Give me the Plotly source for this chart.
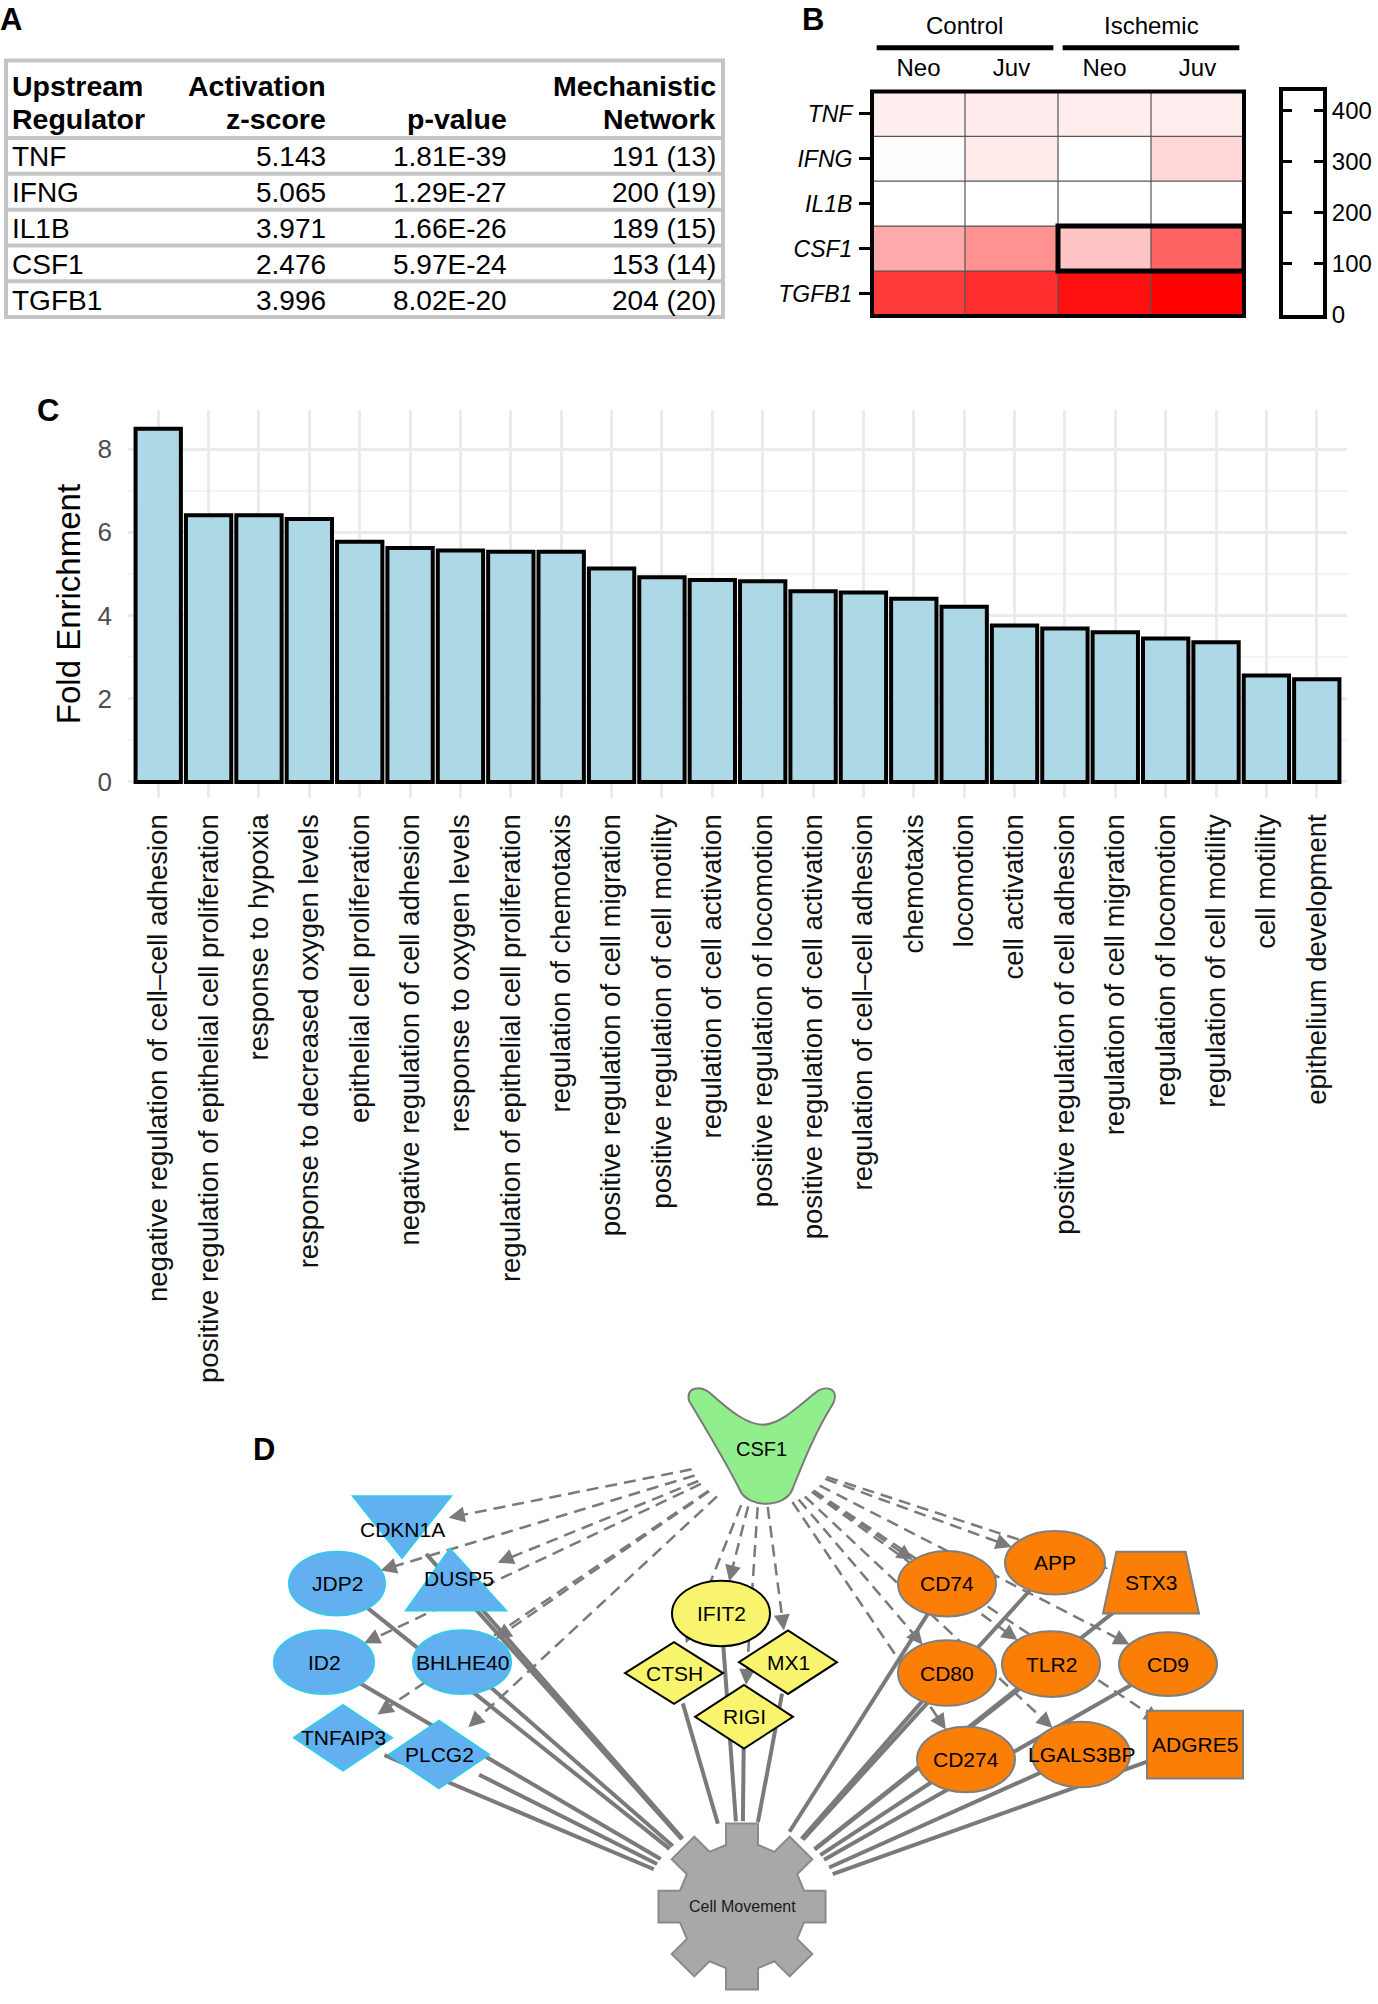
import numpy as np
import plotly.graph_objects as go

W, H = 1378, 2004
FONT = "Liberation Sans, Arial, Helvetica, sans-serif"

# ---------------- Panel A data ----------------
regulators = ["TNF", "IFNG", "IL1B", "CSF1", "TGFB1"]
activation_z = [5.143, 5.065, 3.971, 2.476, 3.996]
p_values = [1.81e-39, 1.29e-27, 1.66e-26, 5.97e-24, 8.02e-20]
network_size = [191, 200, 189, 153, 204]
network_genes = [13, 19, 15, 14, 20]
table_head_line1 = ["Upstream", "Activation", "", "Mechanistic"]
table_head_line2 = ["Regulator", "z-score", "p-value", "Network"]

# ---------------- Panel B data ----------------
heat_genes = ["TNF", "IFNG", "IL1B", "CSF1", "TGFB1"]
heat_groups = ["Control", "Ischemic"]
heat_ages = ["Neo", "Juv", "Neo", "Juv"]
heat_values = [
    [26, 32, 28, 30],
    [5, 34, 0, 62],
    [0, 0, 0, 0],
    [133, 172, 91, 243],
    [309, 330, 375, 400],
]
colorbar_ticks = [0, 100, 200, 300, 400]

# ---------------- Panel C data ----------------
go_terms = [
    "negative regulation of cell\u2013cell adhesion",
    "positive regulation of epithelial cell proliferation",
    "response to hypoxia",
    "response to decreased oxygen levels",
    "epithelial cell proliferation",
    "negative regulation of cell adhesion",
    "response to oxygen levels",
    "regulation of epithelial cell proliferation",
    "regulation of chemotaxis",
    "positive regulation of cell migration",
    "positive regulation of cell motility",
    "regulation of cell activation",
    "positive regulation of locomotion",
    "positive regulation of cell activation",
    "regulation of cell\u2013cell adhesion",
    "chemotaxis",
    "locomotion",
    "cell activation",
    "positive regulation of cell adhesion",
    "regulation of cell migration",
    "regulation of locomotion",
    "regulation of cell motility",
    "cell motility",
    "epithelium development",
]
fold_enrichment = [8.49, 6.41, 6.41, 6.32, 5.77, 5.62, 5.56, 5.53, 5.53, 5.13, 4.92, 4.85,
                   4.82, 4.58, 4.55, 4.40, 4.21, 3.76, 3.69, 3.60, 3.45, 3.36, 2.56, 2.47]
y_ticks_c = [0, 2, 4, 6, 8]

# ---------------- Panel D data ----------------
regulator_node = "CSF1"
function_node = "Cell Movement"
node_names = ["CDKN1A", "DUSP5", "JDP2", "ID2", "BHLHE40", "TNFAIP3", "PLCG2",
              "IFIT2", "CTSH", "MX1", "RIGI",
              "CD74", "APP", "STX3", "CD80", "TLR2", "CD9", "CD274", "LGALS3BP", "ADGRE5"]
node_kinds = ["invtri", "tri", "ellipse", "ellipse", "ellipse", "diamond", "diamond",
              "ellipse", "diamond", "diamond", "diamond",
              "ellipse", "ellipse", "trapezoid", "ellipse", "ellipse", "ellipse", "ellipse", "ellipse", "rect"]
node_groups = ["blue"] * 7 + ["yellow"] * 4 + ["orange"] * 9

# ---------------- layout (pixel geometry) ----------------
def px(x):
    return x / W

def py(y):
    return 1 - y / H

node_layout = {  # cx, cy, half-width, half-height (pixels)
    "CDKN1A": (402, 1537, 49, 31), "DUSP5": (456, 1590, 50, 31), "JDP2": (337, 1594, 48, 32),
    "ID2": (324, 1673, 50, 32), "BHLHE40": (462, 1673, 49, 32), "TNFAIP3": (343, 1749, 49, 33),
    "PLCG2": (439, 1766, 50, 34), "IFIT2": (721, 1624, 49, 33), "CTSH": (674, 1684, 49, 31),
    "MX1": (788, 1673, 49, 32), "RIGI": (744, 1728, 49, 32), "CD74": (947, 1594, 49, 33),
    "APP": (1055, 1573, 50, 32), "STX3": (1151, 1593, 48, 31), "CD80": (947, 1684, 49, 33),
    "TLR2": (1051, 1675, 49, 33), "CD9": (1168, 1675, 49, 32), "CD274": (966, 1771, 49, 33),
    "LGALS3BP": (1081, 1766, 49, 33), "ADGRE5": (1195, 1756, 48, 34),
}
label_offsets = {"CDKN1A": (0, 2), "DUSP5": (3, -1)}
group_style = {
    "blue": dict(fill="#62b0f0", line="#36c8ea"),
    "yellow": dict(fill="#f8f46e", line="#000000"),
    "orange": dict(fill="#fb7f06", line="#7f7f7f"),
}
CSF1_C = (761, 1465, 72, 52)
GEAR_C = (742, 1919)

fig = go.Figure()
shapes = []
annotations = []

# ---------------- Panel A: table ----------------
TX0, TX1, TY0, HEAD_H, ROW_H = 6, 723, 61, 78, 36
TY1 = TY0 + HEAD_H + ROW_H * len(regulators)
COL_X = [10, 328, 509, 718]
COL_ANCHOR = ["left", "right", "right", "right"]
table_columns = [regulators,
                 ["%.3f" % z for z in activation_z],
                 ["%.2E" % p for p in p_values],
                 ["%d (%d)" % (a, b) for a, b in zip(network_size, network_genes)]]
for c in range(4):
    for line_i, heads in enumerate([table_head_line1, table_head_line2]):
        if heads[c]:
            annotations.append(dict(x=px(COL_X[c]), y=py(TY0 + 26 + 33 * line_i), xref="paper", yref="paper",
                                    text="<b>%s</b>" % heads[c], showarrow=False,
                                    xanchor=COL_ANCHOR[c], yanchor="middle",
                                    font=dict(family=FONT, size=28.5, color="black")))
    for r, val in enumerate(table_columns[c]):
        annotations.append(dict(x=px(COL_X[c]), y=py(TY0 + HEAD_H + ROW_H * (r + 0.5) + 1), xref="paper",
                                yref="paper", text=val, showarrow=False,
                                xanchor=COL_ANCHOR[c], yanchor="middle",
                                font=dict(family=FONT, size=28, color="black")))
shapes.append(dict(type="rect", xref="paper", yref="paper", x0=px(TX0), x1=px(TX1),
                   y0=py(TY0), y1=py(TY1), line=dict(color="#c4c4c4", width=4)))
for i in range(len(regulators)):
    yy = TY0 + HEAD_H + ROW_H * i
    shapes.append(dict(type="line", xref="paper", yref="paper", x0=px(TX0), x1=px(TX1),
                       y0=py(yy), y1=py(yy), line=dict(color="#c4c4c4", width=4)))

# ---------------- Panel B: heatmap ----------------
fig.add_trace(go.Heatmap(
    z=heat_values, x=list(range(len(heat_ages))), y=heat_genes,
    colorscale=[[0, "#ffffff"], [1, "#ff0000"]], zmin=0, zmax=400,
    showscale=False, xaxis="x2", yaxis="y2"))
for k in range(1, len(heat_ages)):
    shapes.append(dict(type="line", xref="x2", yref="y2 domain", x0=k - 0.5, x1=k - 0.5, y0=0, y1=1,
                       line=dict(color="#555555", width=1.2)))
for k in range(1, len(heat_genes)):
    shapes.append(dict(type="line", xref="x2 domain", yref="y2", x0=0, x1=1, y0=k - 0.5, y1=k - 0.5,
                       line=dict(color="#555555", width=1.2)))
shapes.append(dict(type="rect", xref="x2 domain", yref="y2 domain", x0=0, x1=1, y0=0, y1=1,
                   line=dict(color="black", width=4)))
csf1_row = heat_genes.index("CSF1")
shapes.append(dict(type="rect", xref="x2", yref="y2", x0=1.5, x1=3.5, y0=csf1_row - 0.5, y1=csf1_row + 0.5,
                   line=dict(color="black", width=5)))
for g, grp in enumerate(heat_groups):
    xc = 2 * g + 0.5
    annotations.append(dict(x=xc, y=py(26), xref="x2", yref="paper", text=grp, showarrow=False,
                            xanchor="center", yanchor="middle",
                            font=dict(family=FONT, size=24, color="black")))
    shapes.append(dict(type="line", xref="x2", yref="paper", x0=xc - 0.95, x1=xc + 0.95,
                       y0=py(48), y1=py(48), line=dict(color="black", width=5)))

# colour key box
fig.add_trace(go.Scatter(x=[], y=[], xaxis="x3", yaxis="y3", showlegend=False))

# ---------------- Panel C: bars ----------------
fig.add_trace(go.Bar(x=go_terms, y=fold_enrichment, width=0.9,
                     marker=dict(color="#add8e6", line=dict(color="black", width=4)),
                     showlegend=False))

# ---------------- Panel D: network ----------------
fig.add_trace(go.Scatter(x=[], y=[], xaxis="x4", yaxis="y4", showlegend=False))

def ell_pt(cx, cy, rx, ry, ux, uy):
    d = 1.0 / np.sqrt((ux / rx) ** 2 + (uy / ry) ** 2)
    return cx + ux * d, cy + uy * d

EDGE = "#7a7a7a"
# dashed arrows regulator -> genes
for name in node_names:
    cx, cy, hw, hh = node_layout[name]
    dx, dy = cx - CSF1_C[0], cy - CSF1_C[1]
    L = np.hypot(dx, dy)
    ux, uy = dx / L, dy / L
    sx, sy = ell_pt(CSF1_C[0], CSF1_C[1], CSF1_C[2], CSF1_C[3], ux, uy)
    ex, ey = ell_pt(cx, cy, hw, hh, -ux, -uy)
    shapes.append(dict(type="line", xref="x4", yref="y4", x0=sx, y0=sy, x1=ex - ux * 8, y1=ey - uy * 8,
                       line=dict(color=EDGE, width=2.5, dash="12px,7px")))
    bx, by = ex - ux * 16, ey - uy * 16
    path = "M %.1f,%.1f L %.1f,%.1f L %.1f,%.1f Z" % (ex, ey, bx - uy * 8, by + ux * 8, bx + uy * 8, by - ux * 8)
    shapes.append(dict(type="path", xref="x4", yref="y4", path=path, fillcolor=EDGE, line=dict(width=0)))

# solid lines genes -> function
for name in node_names:
    cx, cy, hw, hh = node_layout[name]
    dx, dy = cx - GEAR_C[0], cy - GEAR_C[1]
    L = np.hypot(dx, dy)
    ux, uy = dx / L, dy / L
    sx, sy = ell_pt(GEAR_C[0], GEAR_C[1], 98, 86, ux, uy)
    ex, ey = ell_pt(cx, cy, hw, hh, -ux, -uy)
    shapes.append(dict(type="line", xref="x4", yref="y4", x0=sx, y0=sy, x1=ex, y1=ey,
                       line=dict(color=EDGE, width=4)))

# regulator shape
shapes.append(dict(type="path", xref="x4", yref="y4", fillcolor="#90ee8c", line=dict(color="#7a7a7a", width=2),
                   path=("M 689,1410 C 686,1396 700,1394 710,1402 C 732,1422 748,1434 763,1434 "
                         "C 778,1434 794,1420 815,1402 C 826,1393 840,1398 833,1413 "
                         "C 815,1442 804,1470 792,1500 C 784,1518 748,1518 740,1500 "
                         "C 725,1470 708,1442 689,1410 Z")))
annotations.append(dict(x=761, y=1458, xref="x4", yref="y4", text=regulator_node, showarrow=False,
                        font=dict(family=FONT, size=20, color="black")))

# gear
R_OUT, R_IN, TOOTH = 85, 64, 16
pts = []
for k in range(8):
    a = np.deg2rad(90 + k * 45)
    for r, da in [(R_IN, -np.arcsin(TOOTH / R_IN)), (R_OUT, -np.arcsin(TOOTH / R_OUT)),
                  (R_OUT, np.arcsin(TOOTH / R_OUT)), (R_IN, np.arcsin(TOOTH / R_IN))]:
        ang = a + da
        pts.append((GEAR_C[0] + r * np.cos(ang), GEAR_C[1] - r * np.sin(ang)))
shapes.append(dict(type="path", xref="x4", yref="y4", fillcolor="#a8a8a8", line=dict(color="#8a8a8a", width=2),
                   path="M " + " L ".join("%.1f,%.1f" % p for p in pts) + " Z"))
annotations.append(dict(x=GEAR_C[0], y=GEAR_C[1], xref="x4", yref="y4", text=function_node, showarrow=False,
                        font=dict(family=FONT, size=16, color="#1a1a1a")))

# gene nodes
for name, kind, grp in zip(node_names, node_kinds, node_groups):
    cx, cy, hw, hh = node_layout[name]
    st = group_style[grp]
    common = dict(xref="x4", yref="y4", fillcolor=st["fill"], line=dict(color=st["line"], width=2))
    if kind == "ellipse":
        shapes.append(dict(type="circle", x0=cx - hw, x1=cx + hw, y0=cy - hh, y1=cy + hh, **common))
    elif kind == "rect":
        shapes.append(dict(type="rect", x0=cx - hw, x1=cx + hw, y0=cy - hh, y1=cy + hh, **common))
    else:
        if kind == "diamond":
            p = [(cx - hw, cy), (cx, cy - hh), (cx + hw, cy), (cx, cy + hh)]
        elif kind == "tri":
            p = [(cx - 6, cy - hh), (cx + hw, cy + hh), (cx - hw, cy + hh)]
        elif kind == "invtri":
            p = [(cx - hw, cy - hh), (cx + hw, cy - hh), (cx, cy + hh)]
        else:  # trapezoid
            p = [(cx - hw * 0.72, cy - hh), (cx + hw * 0.72, cy - hh), (cx + hw, cy + hh), (cx - hw, cy + hh)]
        shapes.append(dict(type="path", path="M " + " L ".join("%.1f,%.1f" % q for q in p) + " Z", **common))
    ox, oy = label_offsets.get(name, (0, 0))
    annotations.append(dict(x=cx + ox, y=cy + oy, xref="x4", yref="y4", text=name, showarrow=False,
                            font=dict(family=FONT, size=21, color="black")))

# panel letters
for letter, (lx, ly, anchor) in {"A": (11, 0, "top"), "B": (813, 0, "top"),
                                 "C": (48, 413, "middle"), "D": (264, 1459, "middle")}.items():
    annotations.append(dict(x=px(lx), y=py(ly), xref="paper", yref="paper", text="<b>%s</b>" % letter,
                            xanchor="center", yanchor=anchor,
                            showarrow=False, font=dict(family=FONT, size=31, color="black")))

fig.update_layout(
    width=W, height=H, margin=dict(l=0, r=0, t=0, b=0),
    paper_bgcolor="white", plot_bgcolor="rgba(0,0,0,0)",
    font=dict(family=FONT, color="black"), showlegend=False,
    shapes=shapes, annotations=annotations,
    # heatmap
    xaxis2=dict(domain=[px(872), px(1244)], anchor="y2", range=[-0.5, 3.5], side="top",
                tickvals=list(range(len(heat_ages))), ticktext=heat_ages, ticks="",
                showgrid=False, zeroline=False, showline=False, ticklabelstandoff=10,
                tickfont=dict(family=FONT, size=24, color="black")),
    yaxis2=dict(domain=[py(318), py(92)], anchor="x2", autorange="reversed", ticks="outside",
                ticklen=12, tickwidth=2.5, tickcolor="black", showgrid=False, zeroline=False,
                tickfont=dict(family=FONT, size=23, color="black", style="italic"), ticklabelstandoff=2),
    # colour key
    xaxis3=dict(domain=[px(1283), px(1323)], anchor="y3", range=[0, 1], showticklabels=False, ticks="",
                showgrid=False, zeroline=False, showline=True, mirror=True, linecolor="black", linewidth=4),
    yaxis3=dict(domain=[py(317), py(92)], anchor="x3", range=[0, 437], side="right",
                tickvals=colorbar_ticks, ticks="inside", mirror="ticks", ticklen=9, tickwidth=3,
                tickcolor="black", showline=True, linecolor="black", linewidth=4, showgrid=False,
                zeroline=False, ticklabelstandoff=0, tickfont=dict(family=FONT, size=24, color="black")),
    # bar chart
    xaxis=dict(domain=[px(128), px(1347)], anchor="y", range=[-0.6, len(go_terms) - 0.4],
               tickangle=-90, showgrid=True, gridcolor="#ebebeb", gridwidth=3, zeroline=False,
               ticks="", ticklabelstandoff=10, tickfont=dict(family=FONT, size=27.5, color="#111111")),
    yaxis=dict(domain=[py(803), py(413)], anchor="x", range=[-0.38, 8.93], tickvals=y_ticks_c,
               showgrid=True, gridcolor="#ebebeb", gridwidth=3, zeroline=False, ticks="",
               minor=dict(dtick=1, showgrid=True, gridcolor="#f3f3f3", gridwidth=1.5),
               ticklabelstandoff=15, tickfont=dict(family=FONT, size=26, color="#4d4d4d"),
               title=dict(text="Fold Enrichment", standoff=6, font=dict(family=FONT, size=33, color="black"))),
    # network canvas
    xaxis4=dict(domain=[0, 1], anchor="y4", range=[0, W], visible=False),
    yaxis4=dict(domain=[0, py(1380)], anchor="x4", range=[H, 1380], visible=False),
)

fig.write_html("out.html", config={"displayModeBar": False},
               post_script="document.body.style.margin='0px';document.body.style.overflow='hidden';")
